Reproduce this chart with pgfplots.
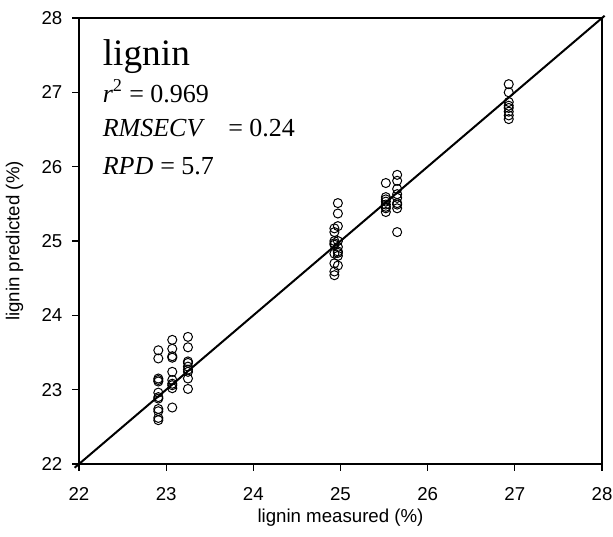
\documentclass[border=0pt]{standalone}
\usepackage{pgfplots}
\pgfplotsset{compat=1.18}
\usepackage{fontspec}
\setmainfont{Liberation Sans}
\newfontfamily\tnr{Liberation Serif}

\begin{document}
\begin{tikzpicture}
\begin{axis}[
    scale only axis,
    width=392.25pt, height=334.5pt,
    xmin=22, xmax=28, ymin=22, ymax=28,
    xtick={22,...,28}, ytick={22,...,28},
    tick align=outside, xtick pos=bottom, ytick pos=left,
    major tick length=5pt,
    tick style={black, line width=0.8pt},
    axis line style={line width=0.9pt},
    /pgf/number format/assume math mode=true,
    ticklabel style={font=\fontsize{14}{16}\selectfont},
    xticklabel style={yshift=-9pt},
    yticklabel style={xshift=-4pt},
    xlabel={lignin measured (\%)},
    ylabel={lignin predicted (\%)},
    label style={font=\fontsize{14}{16}\selectfont},
    xlabel style={at={(axis description cs:0.5,-0.1211)}, anchor=center},
    ylabel style={at={(axis description cs:-0.1234,0.5)}, anchor=center},
    clip=false,
]
% 1:1 line
\addplot[black, line width=1.5pt] coordinates {(21.95,21.95) (28.03,28.03)};

% measured vs predicted
\addplot[only marks, mark=o, mark size=3.4pt, mark options={line width=0.75pt}, black] table {
x y
22.91 23.53
22.91 23.42
22.91 23.15
22.91 23.13
22.91 23.11
22.91 22.96
22.91 22.90
22.91 22.88
22.91 22.74
22.91 22.71
22.91 22.62
22.91 22.59
23.07 23.67
23.07 23.55
23.07 23.45
23.07 23.43
23.07 23.24
23.07 23.13
23.07 23.08
23.07 23.06
23.07 23.02
23.07 22.76
23.25 23.71
23.25 23.57
23.25 23.38
23.25 23.36
23.25 23.31
23.25 23.27
23.25 23.24
23.25 23.15
23.25 23.01
24.93 25.17
24.93 25.12
24.93 25.00
24.93 24.97
24.93 24.95
24.93 24.83
24.93 24.70
24.93 24.59
24.93 24.54
24.97 25.51
24.97 25.37
24.97 25.20
24.97 25.00
24.97 24.92
24.97 24.86
24.97 24.84
24.97 24.80
24.97 24.67
25.52 25.78
25.52 25.59
25.52 25.56
25.52 25.53
25.52 25.49
25.52 25.46
25.52 25.44
25.52 25.39
25.65 25.89
25.65 25.81
25.65 25.70
25.65 25.63
25.65 25.58
25.65 25.51
25.65 25.49
25.65 25.44
25.65 25.12
26.93 27.11
26.93 27.00
26.93 26.87
26.93 26.82
26.93 26.79
26.93 26.74
26.93 26.69
26.93 26.64
};

\node[anchor=base west, inner sep=0, font=\tnr\fontsize{28}{30}\selectfont] at (axis cs:22.27,27.36) {lignin};
\node[anchor=base west, inner sep=0, font=\tnr\fontsize{19.5}{21}\selectfont] at (axis cs:22.27,26.87) {\textit{r}\textsuperscript{2} = 0.969};
\node[anchor=base west, inner sep=0, font=\tnr\fontsize{19.5}{21}\selectfont] at (axis cs:22.27,26.40) {\textit{RMSECV}};
\node[anchor=base west, inner sep=0, font=\tnr\fontsize{19.5}{21}\selectfont] at (axis cs:23.71,26.40) {= 0.24};
\node[anchor=base west, inner sep=0, font=\tnr\fontsize{19.5}{21}\selectfont] at (axis cs:22.27,25.89) {\textit{RPD}};
\node[anchor=base west, inner sep=0, font=\tnr\fontsize{19.5}{21}\selectfont] at (axis cs:22.93,25.89) {= 5.7};
\end{axis}
\pgfresetboundingbox
\path ([shift={(-59.25pt,-54pt)}]current axis.south west) rectangle ([shift={(8.25pt,13.5pt)}]current axis.north east);
\end{tikzpicture}
\end{document}
